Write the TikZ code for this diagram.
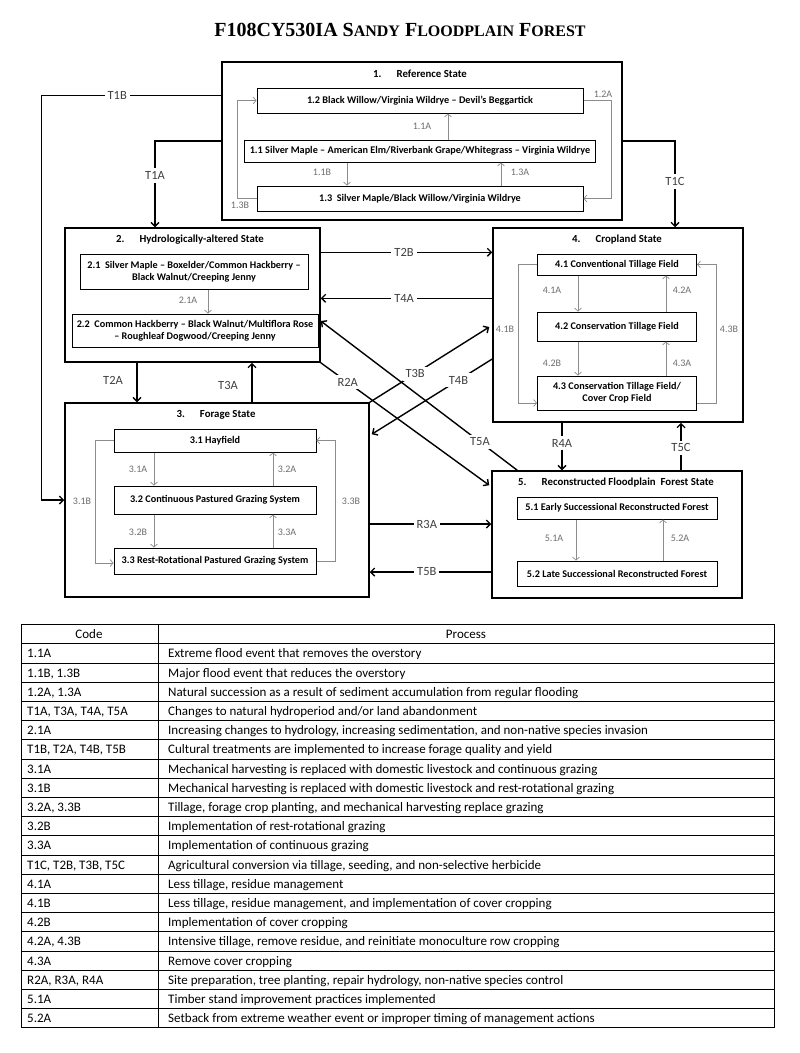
\documentclass[tikz,border=0pt]{standalone}
\usepackage{fontspec}
\setmainfont{Carlito}
\newfontfamily\tnr{Liberation Serif}
\usetikzlibrary{arrows.meta,calc}
\definecolor{ingray}{HTML}{8C8C8C}
\definecolor{lblgray}{HTML}{6E6E6E}
\definecolor{tgray}{HTML}{404040}
\begin{document}
\begin{tikzpicture}[x=1pt,y=-1pt,
  state/.style={draw, line width=1.5pt, inner sep=0pt},
  sub/.style={draw, line width=1pt, inner sep=1pt, align=center, font=\bfseries\fontsize{10.2}{12}\selectfont},
  stitle/.style={font=\bfseries\fontsize{10.8}{12}\selectfont, inner sep=1pt},
  inarr/.style={draw=ingray, line width=0.7pt, -{Straight Barb[length=3pt,width=7pt]}},
  ilbl/.style={text=lblgray, font=\fontsize{10}{11}\selectfont, inner sep=1pt},
  tarr/.style={draw=black, line width=1.4pt, -{Straight Barb[length=4pt,width=8pt]}},
  tlbl/.style={text=tgray, fill=white, font=\fontsize{12.5}{14}\selectfont, inner sep=3pt},
  cell/.style={font=\fontsize{13}{15}\selectfont, anchor=base west, inner sep=0pt},
  hcell/.style={font=\fontsize{13}{15}\selectfont, anchor=base, inner sep=0pt},
  tline/.style={draw=black, line width=0.8pt}
]
\useasboundingbox (0,0) rectangle (800,1053);
\fill[white] (0,0) rectangle (800,1053);

% Title
\node[font=\tnr\bfseries, inner sep=0pt] (title) at (400,30)
  {\fontsize{20}{22}\selectfont F108CY530IA S{\fontsize{16}{18}\selectfont ANDY} F{\fontsize{16}{18}\selectfont LOODPLAIN} F{\fontsize{16}{18}\selectfont OREST}};

% ---------- State 1
\node[state, minimum width=400, minimum height=158] (s1) at (422,141) {};
\node[stitle] (t1) at (420,74) {1.\hspace{1.4em}Reference State};
\node[sub, minimum width=326, minimum height=25] (n12) at (420,100.5) {1.2 Black Willow/Virginia Wildrye -- Devil's Beggartick};
\node[sub, minimum width=351, minimum height=22] (n11) at (420,151) {1.1 Silver Maple -- American Elm/Riverbank Grape/Whitegrass -- Virginia Wildrye};
\node[sub, minimum width=326, minimum height=25] (n13) at (420,198.5) {1.3\ \ Silver Maple/Black Willow/Virginia Wildrye};
\draw[inarr] ($(n11.north)+(28,0)$) -- ($(n12.south)+(28,0)$);
\draw[inarr] ($(n11.south)+(-73,0)$) -- ($(n13.north)+(-73,0)$);
\draw[inarr] ($(n13.north)+(81,0)$) -- ($(n11.south)+(81,0)$);
\draw[inarr] (n13.west) -- ++(-19,0) |- (n12.west);
\draw[inarr] (n12.east) -- ++(28,0) |- (n13.east);
\node[ilbl] (l11a) at (422,126) {1.1A};
\node[ilbl] (l11b) at (322,172) {1.1B};
\node[ilbl] (l13a) at (520,172) {1.3A};
\node[ilbl] (l13b) at (240,205) {1.3B};
\node[ilbl] (l12a) at (603,94) {1.2A};

% ---------- State 2
\node[state, minimum width=255, minimum height=134] (s2) at (192.5,295) {};
\node[stitle] (t2) at (190,240) {2.\hspace{1.4em}Hydrologically-altered State};
\node[sub, minimum width=228, minimum height=35] (n21) at (194,271.5) {2.1\ \ Silver Maple -- Boxelder/Common Hackberry --\\Black Walnut/Creeping Jenny};
\node[sub, minimum width=246, minimum height=33] (n22) at (195,330.5) {2.2\ \ Common Hackberry -- Black Walnut/Multiflora Rose\\-- Roughleaf Dogwood/Creeping Jenny};
\draw[inarr] ($(n21.south)+(14,0)$) -- ($(n22.north)+(13,0)$);
\node[ilbl] (l21a) at (188,300) {2.1A};

% ---------- State 4
\node[state, minimum width=250, minimum height=194] (s4) at (618,325) {};
\node[stitle] (t4) at (617,240) {4.\hspace{1.4em}Cropland State};
\node[sub, minimum width=159, minimum height=21] (n41) at (617,264.5) {4.1 Conventional Tillage Field};
\node[sub, minimum width=159, minimum height=29] (n42) at (617,326.5) {4.2 Conservation Tillage Field};
\node[sub, minimum width=159, minimum height=34] (n43) at (617,393) {4.3 Conservation Tillage Field/\\Cover Crop Field};
\draw[inarr] ($(n41.south)+(-39,0)$) -- ($(n42.north)+(-39,0)$);
\draw[inarr] ($(n42.north)+(49,0)$) -- ($(n41.south)+(49,0)$);
\draw[inarr] ($(n42.south)+(-39,0)$) -- ($(n43.north)+(-39,0)$);
\draw[inarr] ($(n43.north)+(49,0)$) -- ($(n42.south)+(49,0)$);
\draw[inarr] (n41.west) -- ++(-19,0) |- ($(n43.west)+(0,10)$);
\draw[inarr] ($(n43.east)+(0,10)$) -- ++(19,0) |- (n41.east);
\node[ilbl] (l41a) at (552,290) {4.1A};
\node[ilbl] (l42a) at (682,290) {4.2A};
\node[ilbl] (l42b) at (552,363) {4.2B};
\node[ilbl] (l43a) at (682,363) {4.3A};
\node[ilbl] (l41b) at (505,329) {4.1B};
\node[ilbl] (l43b) at (729,329) {4.3B};

% ---------- State 3
\node[state, minimum width=304, minimum height=194] (s3) at (217,500) {};
\node[stitle] (t3) at (216,415) {3.\hspace{1.4em}Forage State};
\node[sub, minimum width=202, minimum height=23] (n31) at (215,440.5) {3.1 Hayfield};
\node[sub, minimum width=202, minimum height=28] (n32) at (215,500) {3.2 Continuous Pastured Grazing System};
\node[sub, minimum width=202, minimum height=26] (n33) at (215,561) {3.3 Rest-Rotational Pastured Grazing System};
\draw[inarr] ($(n31.south)+(-61,0)$) -- ($(n32.north)+(-61,0)$);
\draw[inarr] ($(n32.north)+(58,0)$) -- ($(n31.south)+(58,0)$);
\draw[inarr] ($(n32.south)+(-61,0)$) -- ($(n33.north)+(-61,0)$);
\draw[inarr] ($(n33.north)+(58,0)$) -- ($(n32.south)+(58,0)$);
\draw[inarr] (n31.west) -- ++(-18,0) |- ($(n33.west)+(0,2)$);
\draw[inarr] (n33.east) -- ++(19,0) |- (n31.east);
\node[ilbl] (l31a) at (138,469) {3.1A};
\node[ilbl] (l32a) at (287,469) {3.2A};
\node[ilbl] (l32b) at (138,532) {3.2B};
\node[ilbl] (l33a) at (287,532) {3.3A};
\node[ilbl] (l31b) at (82,501) {3.1B};
\node[ilbl] (l33b) at (351,501) {3.3B};

% ---------- State 5
\node[state, minimum width=250, minimum height=127] (s5) at (617,534.5) {};
\node[stitle] (t5) at (616,483) {5.\hspace{1.4em}Reconstructed Floodplain\ \ Forest State};
\node[sub, minimum width=200, minimum height=22] (n51) at (617,508) {5.1 Early Successional Reconstructed Forest};
\node[sub, minimum width=200, minimum height=25] (n52) at (617,573.5) {5.2 Late Successional Reconstructed Forest};
\draw[inarr] ($(n51.south)+(-41,0)$) -- ($(n52.north)+(-41,0)$);
\draw[inarr] ($(n52.north)+(46,0)$) -- ($(n51.south)+(46,0)$);
\node[ilbl] (l51a) at (554,538) {5.1A};
\node[ilbl] (l52a) at (680,538) {5.2A};

% ---------- Transitions
\draw[tarr] ($(s1.north west)+(0,34)$) -- ++(-180,0) node[tlbl,pos=0.578]{T1B} |- (s3.west);
\draw[tarr] (s1.west) -| ($(s2.north)+(-37.5,0)$) node[tlbl,pos=0.7]{T1A};
\draw[tarr] (s1.east) -| ($(s4.north)+(57,0)$) node[tlbl,pos=0.735]{T1C};
\draw[tarr] ($(s2.north east)+(0,25)$) -- ($(s4.north west)+(0,25)$) node[tlbl,pos=0.486]{T2B};
\draw[tarr] ($(s4.north west)+(0,71)$) -- ($(s2.north east)+(0,71)$) node[tlbl,pos=0.514]{T4A};
\draw[tarr] ($(s2.south)+(-55.5,0)$) -- ($(s3.north)+(-80,0)$);
\node[tlbl, fill=none] (lt2a) at (113,380) {T2A};
\draw[tarr] ($(s3.north)+(35,0)$) -- ($(s2.south)+(59.5,0)$);
\node[tlbl, fill=none] (lt3a) at (228,385) {T3A};
\draw[tarr] ($(s5.north west)+(26,0)$) -- ($(s2.east)+(0,26)$) node[tlbl,pos=0.19]{T5A};
\draw[tarr] (s2.south east) -- ($(s5.north west)+(-2,15)$) node[tlbl,pos=0.16]{R2A};
\draw[tarr] (s3.north east) -- ($(s4.west)+(-3,2)$) node[tlbl,pos=0.38]{T3B};
\draw[tarr] ($(s4.west)+(0,34)$) -- ($(s3.north east)+(2,32)$) node[tlbl,pos=0.28]{T4B};
\draw[tarr] ($(s3.east)+(0,24)$) -- ($(s5.west)+(0,-10.5)$) node[tlbl,pos=0.47]{R3A};
\draw[tarr] ($(s5.west)+(0,37.5)$) -- ($(s3.east)+(0,72)$) node[tlbl,pos=0.53]{T5B};
\draw[tarr] ($(s4.south)+(-56,0)$) -- ($(s5.north)+(-55,0)$) node[tlbl,pos=0.43]{R4A};
\draw[tarr] ($(s5.north)+(64,0)$) -- ($(s4.south)+(63,0)$) node[tlbl,pos=0.47]{T5C};

% ---------- Table
\draw[tline] (21,624.5) rectangle (774,1027.7);
\foreach \k in {1,...,20} { \draw[tline] (21,624.5+19.2*\k) -- (774,624.5+19.2*\k); }
\draw[tline] (158,624.5) -- (158,1027.7);
\node[hcell] (hcode) at (89,638.6) {Code};
\node[hcell] (hproc) at (466,638.6) {Process};
\node[cell] (c1) at (27,657.8) {1.1A};
\node[cell] (p1) at (168,657.8) {Extreme flood event that removes the overstory};
\node[cell] (c2) at (27,677.0) {1.1B, 1.3B};
\node[cell] (p2) at (168,677.0) {Major flood event that reduces the overstory};
\node[cell] (c3) at (27,696.2) {1.2A, 1.3A};
\node[cell] (p3) at (168,696.2) {Natural succession as a result of sediment accumulation from regular flooding};
\node[cell] (c4) at (27,715.4) {T1A, T3A, T4A, T5A};
\node[cell] (p4) at (168,715.4) {Changes to natural hydroperiod and/or land abandonment};
\node[cell] (c5) at (27,734.6) {2.1A};
\node[cell] (p5) at (168,734.6) {Increasing changes to hydrology, increasing sedimentation, and non-native species invasion};
\node[cell] (c6) at (27,753.8) {T1B, T2A, T4B, T5B};
\node[cell] (p6) at (168,753.8) {Cultural treatments are implemented to increase forage quality and yield};
\node[cell] (c7) at (27,773.0) {3.1A};
\node[cell] (p7) at (168,773.0) {Mechanical harvesting is replaced with domestic livestock and continuous grazing};
\node[cell] (c8) at (27,792.2) {3.1B};
\node[cell] (p8) at (168,792.2) {Mechanical harvesting is replaced with domestic livestock and rest-rotational grazing};
\node[cell] (c9) at (27,811.4) {3.2A, 3.3B};
\node[cell] (p9) at (168,811.4) {Tillage, forage crop planting, and mechanical harvesting replace grazing};
\node[cell] (c10) at (27,830.6) {3.2B};
\node[cell] (p10) at (168,830.6) {Implementation of rest-rotational grazing};
\node[cell] (c11) at (27,849.8) {3.3A};
\node[cell] (p11) at (168,849.8) {Implementation of continuous grazing};
\node[cell] (c12) at (27,869.0) {T1C, T2B, T3B, T5C};
\node[cell] (p12) at (168,869.0) {Agricultural conversion via tillage, seeding, and non-selective herbicide};
\node[cell] (c13) at (27,888.2) {4.1A};
\node[cell] (p13) at (168,888.2) {Less tillage, residue management};
\node[cell] (c14) at (27,907.4) {4.1B};
\node[cell] (p14) at (168,907.4) {Less tillage, residue management, and implementation of cover cropping};
\node[cell] (c15) at (27,926.6) {4.2B};
\node[cell] (p15) at (168,926.6) {Implementation of cover cropping};
\node[cell] (c16) at (27,945.8) {4.2A, 4.3B};
\node[cell] (p16) at (168,945.8) {Intensive tillage, remove residue, and reinitiate monoculture row cropping};
\node[cell] (c17) at (27,965.0) {4.3A};
\node[cell] (p17) at (168,965.0) {Remove cover cropping};
\node[cell] (c18) at (27,984.2) {R2A, R3A, R4A};
\node[cell] (p18) at (168,984.2) {Site preparation, tree planting, repair hydrology, non-native species control};
\node[cell] (c19) at (27,1003.4) {5.1A};
\node[cell] (p19) at (168,1003.4) {Timber stand improvement practices implemented};
\node[cell] (c20) at (27,1022.6) {5.2A};
\node[cell] (p20) at (168,1022.6) {Setback from extreme weather event or improper timing of management actions};
\end{tikzpicture}
\end{document}
